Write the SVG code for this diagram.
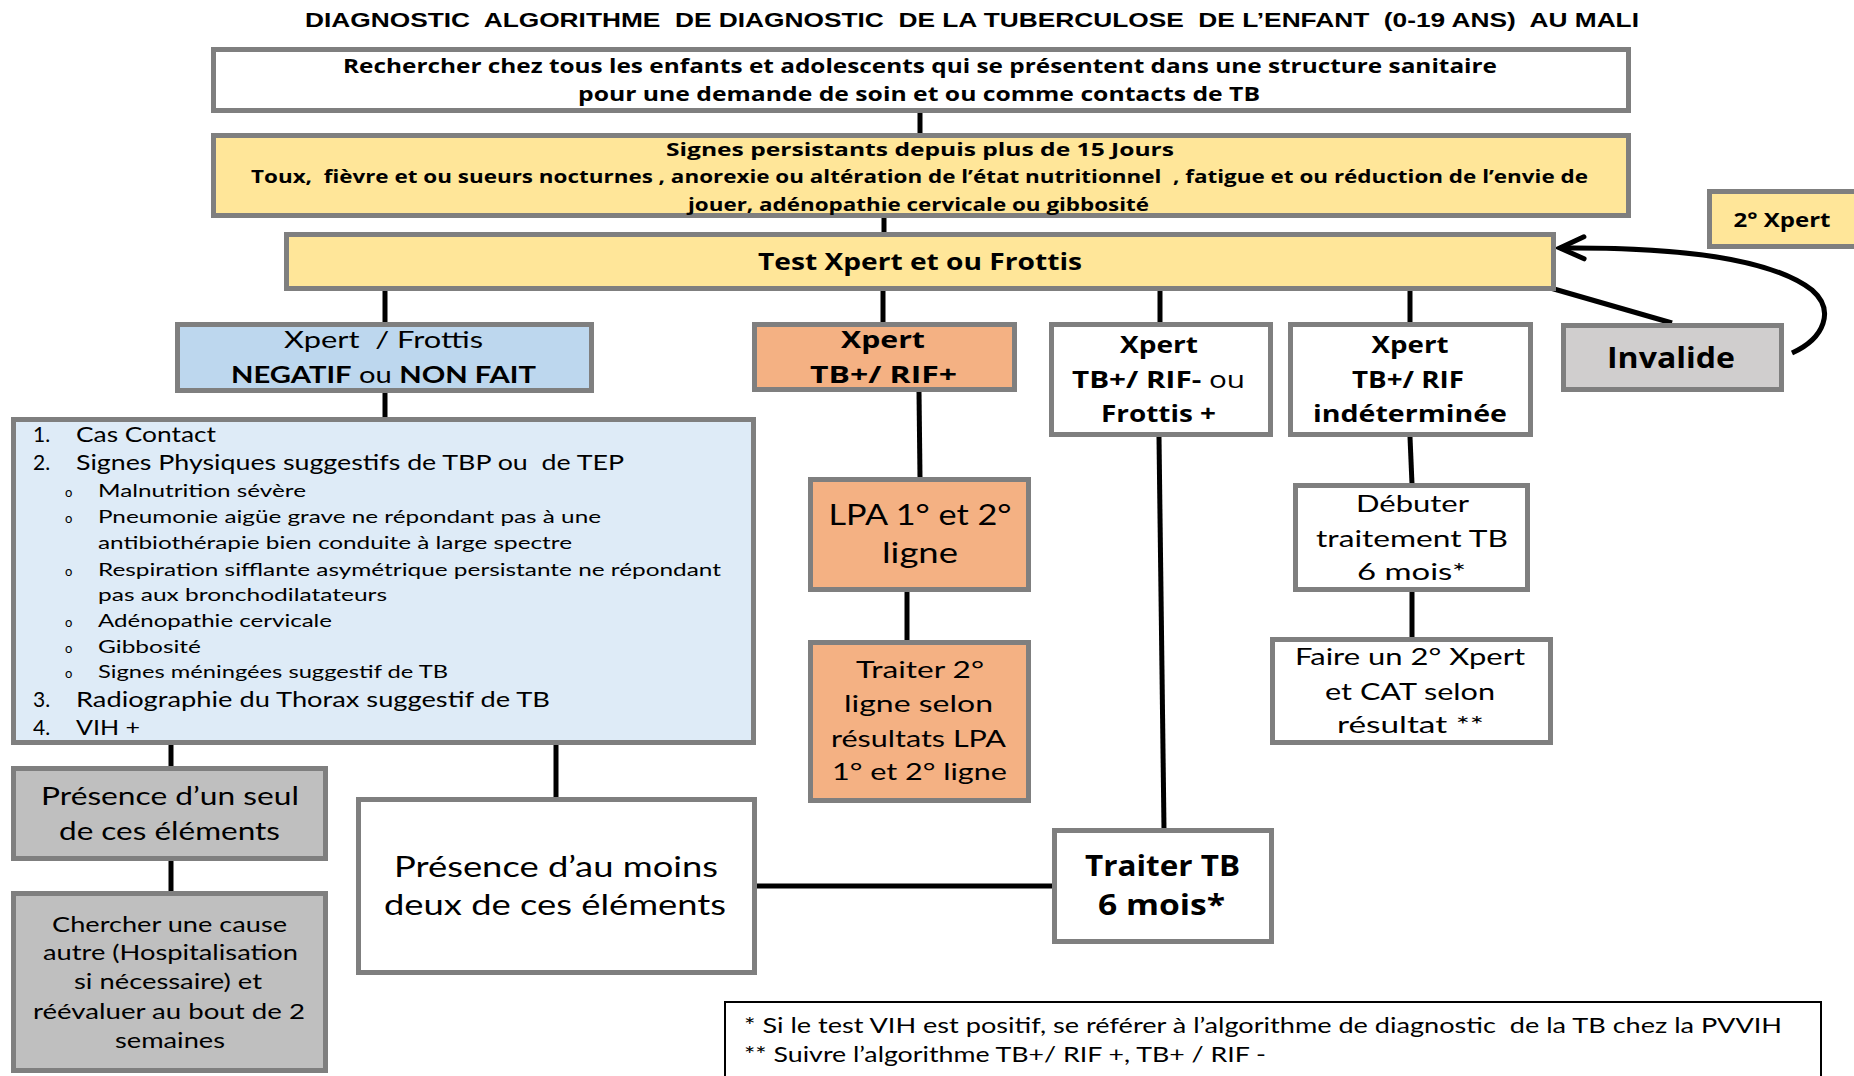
<svg xmlns="http://www.w3.org/2000/svg" width="1854" height="1076" viewBox="0 0 1854 1076">
<defs>
<style>
.box{stroke:#7F7F7F;stroke-width:5}
.w{fill:#FFFFFF}.y{fill:#FFE699}.bl{fill:#BDD7EE}.lb{fill:#DEEBF7}.o{fill:#F4B183}.g{fill:#D0CECE}.g2{fill:#BFBFBF}
.c{stroke:#000;stroke-width:5;fill:none}
text{fill:#000;white-space:pre}
.t{font-family:"Liberation Sans",Arial,sans-serif;font-weight:bold;font-size:19.5px}
.b{font-family:"Open Sans","Liberation Sans",sans-serif;font-weight:bold}
.r{font-family:Lato,"Open Sans",sans-serif;font-weight:normal}
.m{text-anchor:middle}
</style>
<marker id="arr" viewBox="-30 -15 34 30" markerWidth="34" markerHeight="30" refX="0" refY="0" orient="auto" markerUnits="userSpaceOnUse">
<path d="M-24,-11 L0,0 L-24,11" fill="none" stroke="#000" stroke-width="5" stroke-linecap="round" stroke-linejoin="miter"/>
</marker>
</defs>
<rect width="1854" height="1076" fill="#FFFFFF"/>

<text id="title" class="t" x="305" y="27" textLength="1334" lengthAdjust="spacingAndGlyphs">DIAGNOSTIC  ALGORITHME  DE DIAGNOSTIC  DE LA TUBERCULOSE  DE L’ENFANT  (0-19 ANS)  AU MALI</text>

<g id="connectors">
<line class="c" x1="920" y1="113" x2="920" y2="134"/>
<line class="c" x1="884" y1="218" x2="884" y2="233"/>
<line class="c" x1="385" y1="291" x2="385" y2="323"/>
<line class="c" x1="883" y1="291" x2="883" y2="324"/>
<line class="c" x1="1160" y1="277" x2="1160" y2="323"/>
<line class="c" x1="1410" y1="277" x2="1410" y2="323"/>
<line class="c" x1="1547" y1="287" x2="1672" y2="323"/>
<path class="c" d="M1792,353 C1825,338 1835,310 1812,290 C1770,258 1680,247 1560,248" marker-end="url(#arr)"/>
<line class="c" x1="385" y1="393" x2="385" y2="418"/>
<line class="c" x1="919" y1="391" x2="920" y2="478"/>
<line class="c" x1="907" y1="592" x2="907" y2="641"/>
<line class="c" x1="1159" y1="437" x2="1164" y2="829"/>
<line class="c" x1="1410" y1="437" x2="1412" y2="484"/>
<line class="c" x1="1412" y1="592" x2="1412" y2="638"/>
<line class="c" x1="171" y1="745" x2="171" y2="767"/>
<line class="c" x1="556" y1="745" x2="556" y2="798"/>
<line class="c" x1="171" y1="861" x2="171" y2="892"/>
<line class="c" x1="757" y1="886" x2="1053" y2="886"/>
</g>

<g id="n-recherche">
<rect class="box w" x="213.5" y="49.5" width="1415" height="61"/>
<text class="b m" x="920" y="73" font-size="19" textLength="1154" lengthAdjust="spacingAndGlyphs">Rechercher chez tous les enfants et adolescents qui se présentent dans une structure sanitaire</text>
<text class="b m" x="919" y="101" font-size="19" textLength="682" lengthAdjust="spacingAndGlyphs">pour une demande de soin et ou comme contacts de TB</text>
</g>

<g id="n-signes">
<rect class="box y" x="213.5" y="135.5" width="1415" height="80"/>
<text class="b m" x="920" y="156" font-size="18" textLength="508" lengthAdjust="spacingAndGlyphs">Signes persistants depuis plus de 15 Jours</text>
<text class="b m" x="919.5" y="183" font-size="17" textLength="1337" lengthAdjust="spacingAndGlyphs">Toux,  fièvre et ou sueurs nocturnes , anorexie ou altération de l’état nutritionnel  , fatigue et ou réduction de l’envie de</text>
<text class="b m" x="918.5" y="211" font-size="17" textLength="461" lengthAdjust="spacingAndGlyphs">jouer, adénopathie cervicale ou gibbosité</text>
</g>

<g id="n-test">
<rect class="box y" x="286.5" y="234.5" width="1267" height="54"/>
<text class="b m" x="920" y="270" font-size="24" textLength="324" lengthAdjust="spacingAndGlyphs">Test Xpert et ou Frottis</text>
</g>

<g id="n-2xpert">
<rect class="box y" x="1709.5" y="191.5" width="160" height="55"/>
<text class="b m" x="1782" y="227" font-size="20" textLength="97" lengthAdjust="spacingAndGlyphs">2° Xpert</text>
</g>

<g id="n-invalide">
<rect class="box g" x="1563.5" y="325.5" width="218" height="64"/>
<text class="b m" x="1671" y="368" font-size="29" textLength="128" lengthAdjust="spacingAndGlyphs">Invalide</text>
</g>

<g id="n-negatif">
<rect class="box bl" x="177.5" y="324.5" width="414" height="66"/>
<text class="r m" x="383.5" y="348" font-size="23" textLength="199" lengthAdjust="spacingAndGlyphs">Xpert  / Frottis</text>
<text class="r m" x="383.5" y="383" font-size="23" textLength="305" lengthAdjust="spacingAndGlyphs"><tspan font-weight="bold">NEGATIF</tspan> ou <tspan font-weight="bold">NON FAIT</tspan></text>
</g>

<g id="n-rifplus">
<rect class="box o" x="754.5" y="324.5" width="260" height="65"/>
<text class="b m" x="883" y="348" font-size="23" textLength="84" lengthAdjust="spacingAndGlyphs">Xpert</text>
<text class="b m" x="883.5" y="383" font-size="23" textLength="147" lengthAdjust="spacingAndGlyphs">TB+/ RIF+</text>
</g>

<g id="n-rifmoins">
<rect class="box w" x="1051.5" y="324.5" width="219" height="110"/>
<text class="b m" x="1159" y="353" font-size="23" textLength="78" lengthAdjust="spacingAndGlyphs">Xpert</text>
<text class="b m" x="1158.5" y="388" font-size="23" textLength="173" lengthAdjust="spacingAndGlyphs">TB+/ RIF- <tspan font-weight="normal">ou</tspan></text>
<text class="b m" x="1158.5" y="422" font-size="23" textLength="115" lengthAdjust="spacingAndGlyphs">Frottis +</text>
</g>

<g id="n-indet">
<rect class="box w" x="1290.5" y="324.5" width="240" height="110"/>
<text class="b m" x="1410" y="353" font-size="23" textLength="77" lengthAdjust="spacingAndGlyphs">Xpert</text>
<text class="b m" x="1408" y="388" font-size="23" textLength="112" lengthAdjust="spacingAndGlyphs">TB+/ RIF</text>
<text class="b m" x="1410" y="422" font-size="23" textLength="194" lengthAdjust="spacingAndGlyphs">indéterminée</text>
</g>

<g id="n-liste">
<rect class="box lb" x="13.5" y="419.5" width="740" height="323"/>
<g class="r" font-size="21">
<text x="33" y="442">1.</text>
<text x="76" y="442" textLength="140" lengthAdjust="spacingAndGlyphs">Cas Contact</text>
<text x="33" y="470">2.</text>
<text x="76" y="470" textLength="548" lengthAdjust="spacingAndGlyphs">Signes Physiques suggestifs de TBP ou  de TEP</text>
<text x="33" y="707">3.</text>
<text x="76" y="707" textLength="474" lengthAdjust="spacingAndGlyphs">Radiographie du Thorax suggestif de TB</text>
<text x="33" y="735">4.</text>
<text x="76" y="735" textLength="64" lengthAdjust="spacingAndGlyphs">VIH +</text>
</g>
<g class="r" font-size="13">
<text x="65" y="497">o</text>
<text x="65" y="523">o</text>
<text x="65" y="576">o</text>
<text x="65" y="627">o</text>
<text x="65" y="653">o</text>
<text x="65" y="678">o</text>
</g>
<g class="r" font-size="18">
<text x="98" y="497" textLength="208" lengthAdjust="spacingAndGlyphs">Malnutrition sévère</text>
<text x="98" y="523" textLength="503" lengthAdjust="spacingAndGlyphs">Pneumonie aigüe grave ne répondant pas à une</text>
<text x="98" y="549" textLength="474" lengthAdjust="spacingAndGlyphs">antibiothérapie bien conduite à large spectre</text>
<text x="98" y="576" textLength="623" lengthAdjust="spacingAndGlyphs">Respiration sifflante asymétrique persistante ne répondant</text>
<text x="98" y="601" textLength="289" lengthAdjust="spacingAndGlyphs">pas aux bronchodilatateurs</text>
<text x="98" y="627" textLength="234" lengthAdjust="spacingAndGlyphs">Adénopathie cervicale</text>
<text x="98" y="653" textLength="103" lengthAdjust="spacingAndGlyphs">Gibbosité</text>
<text x="98" y="678" textLength="350" lengthAdjust="spacingAndGlyphs">Signes méningées suggestif de TB</text>
</g>
</g>

<g id="n-lpa">
<rect class="box o" x="810.5" y="479.5" width="218" height="110"/>
<text class="r m" x="920" y="525" font-size="28" textLength="183" lengthAdjust="spacingAndGlyphs">LPA 1° et 2°</text>
<text class="r m" x="920" y="563" font-size="28" textLength="76" lengthAdjust="spacingAndGlyphs">ligne</text>
</g>

<g id="n-traiter2">
<rect class="box o" x="810.5" y="642.5" width="218" height="158"/>
<text class="r m" x="920" y="678" font-size="24" textLength="128" lengthAdjust="spacingAndGlyphs">Traiter 2°</text>
<text class="r m" x="918.5" y="712" font-size="24" textLength="149" lengthAdjust="spacingAndGlyphs">ligne selon</text>
<text class="r m" x="918.5" y="747" font-size="24" textLength="175" lengthAdjust="spacingAndGlyphs">résultats LPA</text>
<text class="r m" x="919.5" y="780" font-size="24" textLength="175" lengthAdjust="spacingAndGlyphs">1° et 2° ligne</text>
</g>

<g id="n-debuter">
<rect class="box w" x="1295.5" y="485.5" width="232" height="104"/>
<text class="r m" x="1412.5" y="512" font-size="24" textLength="113" lengthAdjust="spacingAndGlyphs">Débuter</text>
<text class="r m" x="1412" y="547" font-size="24" textLength="192" lengthAdjust="spacingAndGlyphs">traitement TB</text>
<text class="r m" x="1411.5" y="580" font-size="24" textLength="109" lengthAdjust="spacingAndGlyphs">6 mois*</text>
</g>

<g id="n-faire">
<rect class="box w" x="1272.5" y="639.5" width="278" height="103"/>
<text class="r m" x="1410" y="665" font-size="24" textLength="230" lengthAdjust="spacingAndGlyphs">Faire un 2° Xpert</text>
<text class="r m" x="1410" y="700" font-size="24" textLength="170" lengthAdjust="spacingAndGlyphs">et CAT selon</text>
<text class="r m" x="1410.5" y="733" font-size="24" textLength="147" lengthAdjust="spacingAndGlyphs">résultat **</text>
</g>

<g id="n-seul">
<rect class="box g2" x="13.5" y="768.5" width="312" height="90"/>
<text class="r m" x="170" y="805" font-size="25" textLength="258" lengthAdjust="spacingAndGlyphs">Présence d’un seul</text>
<text class="r m" x="169.5" y="840" font-size="25" textLength="221" lengthAdjust="spacingAndGlyphs">de ces éléments</text>
</g>

<g id="n-chercher">
<rect class="box g2" x="13.5" y="893.5" width="312" height="177"/>
<text class="r m" x="169.5" y="932" font-size="22" textLength="235" lengthAdjust="spacingAndGlyphs">Chercher une cause</text>
<text class="r m" x="170.5" y="960" font-size="22" textLength="255" lengthAdjust="spacingAndGlyphs">autre (Hospitalisation</text>
<text class="r m" x="168" y="989" font-size="22" textLength="188" lengthAdjust="spacingAndGlyphs">si nécessaire) et</text>
<text class="r m" x="169" y="1019" font-size="22" textLength="272" lengthAdjust="spacingAndGlyphs">réévaluer au bout de 2</text>
<text class="r m" x="170" y="1048" font-size="22" textLength="110" lengthAdjust="spacingAndGlyphs">semaines</text>
</g>

<g id="n-moins">
<rect class="box w" x="358.5" y="799.5" width="396" height="173"/>
<text class="r m" x="556" y="877" font-size="29" textLength="324" lengthAdjust="spacingAndGlyphs">Présence d’au moins</text>
<text class="r m" x="555" y="915" font-size="29" textLength="342" lengthAdjust="spacingAndGlyphs">deux de ces éléments</text>
</g>

<g id="n-traitertb">
<rect class="box w" x="1054.5" y="830.5" width="217" height="111"/>
<text class="b m" x="1162.5" y="876" font-size="28" textLength="155" lengthAdjust="spacingAndGlyphs">Traiter TB</text>
<text class="b m" x="1161.5" y="915" font-size="28" textLength="127" lengthAdjust="spacingAndGlyphs">6 mois*</text>
</g>

<g id="n-note">
<rect x="725" y="1002" width="1096" height="90" fill="#FFFFFF" stroke="#000" stroke-width="2"/>
<text class="r" x="744" y="1033" font-size="21" textLength="1038" lengthAdjust="spacingAndGlyphs">* Si le test VIH est positif, se référer à l’algorithme de diagnostic  de la TB chez la PVVIH</text>
<text class="r" x="744" y="1062" font-size="21" textLength="522" lengthAdjust="spacingAndGlyphs">** Suivre l’algorithme TB+/ RIF +, TB+ / RIF -</text>
</g>
</svg>
